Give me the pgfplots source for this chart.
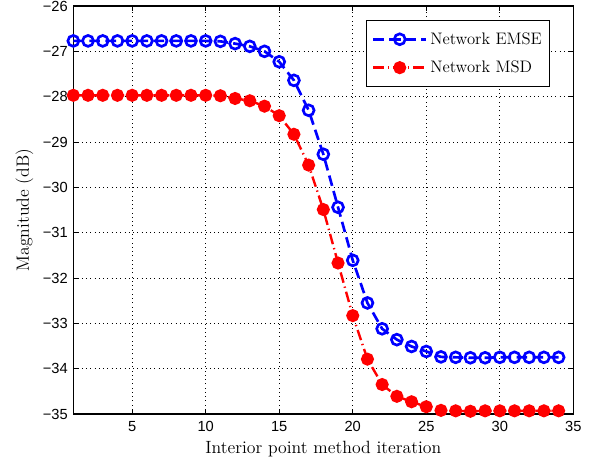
\documentclass[border=0pt]{standalone}
\usepackage{fontspec}
\usepackage{pgfplots}
\pgfplotsset{compat=1.18}
\newfontfamily\ticksf{Liberation Sans}
\begin{document}
\begin{tikzpicture}
\begin{axis}[
  name=ax,
  scale only axis,
  width=375pt, height=306pt,
  xmin=1, xmax=35, ymin=-35, ymax=-26,
  xtick={5,10,15,20,25,30,35},
  ytick={-35,-34,-33,-32,-31,-30,-29,-28,-27,-26},
  tick align=inside,
  major tick length=4pt,
  tick style={black, line width=0.5pt},
  axis line style={line width=0.8pt},
  grid=major,
  grid style={black, line width=0.5pt, dash pattern=on 0.6pt off 2.6pt},
  /pgf/number format/assume math mode=true,
  ticklabel style={font=\ticksf\fontsize{11}{13}\selectfont, inner sep=0pt},
  yticklabel style={anchor=east, xshift=-4pt},
  xticklabel style={anchor=north, yshift=-5pt},
  yticklabel={−\pgfmathparse{-\tick}\pgfmathprintnumber[int detect]{\pgfmathresult}},
  xlabel={Interior point method iteration},
  ylabel={Magnitude (dB)},
  every axis x label/.style={at={(axis description cs:0.5,-0.0854)}, anchor=center, font=\fontsize{13.3}{15}\selectfont},
  every axis y label/.style={at={(axis description cs:-0.098,0.5)}, rotate=90, anchor=center, font=\fontsize{13.3}{15}\selectfont},
  legend style={at={(0.954,0.966)}, anchor=north east, font=\fontsize{12.5}{14}\selectfont, draw=black, line width=0.8pt, row sep=7pt, inner xsep=4pt, inner ysep=7pt},
  legend cell align=left,
  legend image code/.code={\draw[mark repeat=2,mark phase=2,#1] plot coordinates {(0cm,0cm) (0.7cm,0cm) (1.4cm,0cm)};},
]
\addplot[blue, line width=2pt, dash pattern=on 8pt off 4pt, mark=o, mark size=4.1pt, mark options={solid, line width=2pt}] coordinates {
(1,-26.77) (2,-26.77) (3,-26.77) (4,-26.77) (5,-26.77) (6,-26.77) (7,-26.77) (8,-26.77) (9,-26.77) (10,-26.77)
(11,-26.78) (12,-26.83) (13,-26.89) (14,-27.00) (15,-27.23) (16,-27.64) (17,-28.30) (18,-29.27) (19,-30.44) (20,-31.61)
(21,-32.55) (22,-33.12) (23,-33.36) (24,-33.51) (25,-33.62) (26,-33.74) (27,-33.75) (28,-33.76) (29,-33.76) (30,-33.75)
(31,-33.75) (32,-33.75) (33,-33.75) (34,-33.75)
};
\addlegendentry{Network EMSE}
\addplot[red, line width=1.8pt, dash pattern=on 8pt off 3pt on 1pt off 3pt, mark=*, mark size=4pt, mark options={solid}] coordinates {
(1,-27.97) (2,-27.97) (3,-27.97) (4,-27.97) (5,-27.97) (6,-27.97) (7,-27.97) (8,-27.97) (9,-27.97) (10,-27.97)
(11,-27.98) (12,-28.04) (13,-28.09) (14,-28.21) (15,-28.42) (16,-28.83) (17,-29.51) (18,-30.49) (19,-31.67) (20,-32.83)
(21,-33.79) (22,-34.35) (23,-34.61) (24,-34.73) (25,-34.84) (26,-34.92) (27,-34.93) (28,-34.94) (29,-34.93) (30,-34.93)
(31,-34.93) (32,-34.93) (33,-34.93) (34,-34.93)
};
\addlegendentry{Network MSD}
\end{axis}
\pgfresetboundingbox
\path[use as bounding box] ([shift={(-55pt,-37pt)}]ax.south west) rectangle ([shift={(14pt,4.5pt)}]ax.north east);
\end{tikzpicture}
\end{document}
